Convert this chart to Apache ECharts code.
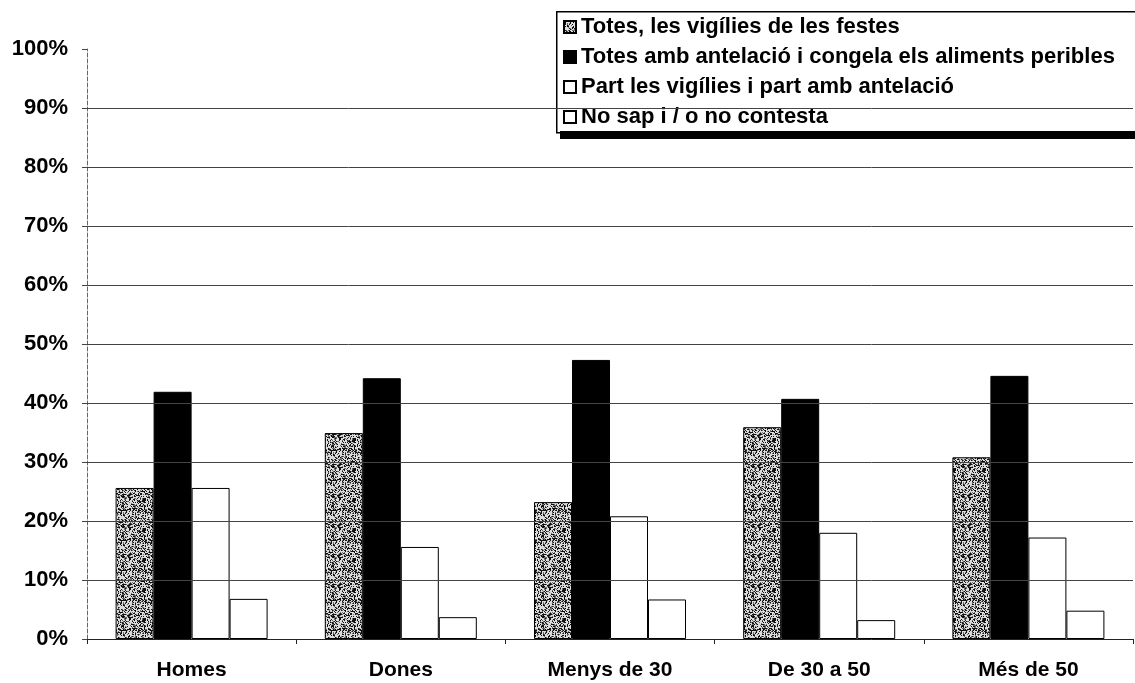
<!DOCTYPE html>
<html>
<head>
<meta charset="utf-8">
<script src="https://cdn.jsdelivr.net/npm/echarts@6/dist/echarts.min.js"></script>
<style>
html,body{margin:0;padding:0;background:#fff;}
#chart{width:1135px;height:683px;}
</style>
</head>
<body>
<div id="chart"></div>
<script>
const categories = ['Homes', 'Dones', 'Menys de 30', 'De 30 a 50', 'Més de 50'];
const seriesNames = [
  'Totes, les vigílies de les festes',
  'Totes amb antelació i congela els aliments peribles',
  'Part les vigílies i part amb antelació',
  'No sap i / o no contesta'
];
const totesVigilies = [25.6, 34.9, 23.2, 35.9, 30.8];
const totesAntelacio = [41.9, 44.2, 47.3, 40.7, 44.6];
const partVigilies = [25.6, 15.6, 20.8, 18.0, 17.2];
const noSap = [6.8, 3.7, 6.7, 3.2, 4.8];
const gridLevels = [10, 20, 30, 40, 50, 60, 70, 80, 90];

// speckled texture (deterministic)
function makePattern() {
  const c = document.createElement('canvas');
  c.width = 30; c.height = 30;
  const ctx = c.getContext('2d');
  ctx.fillStyle = '#dcdcdc';
  ctx.fillRect(0, 0, 30, 30);
  for (let y = 0; y < 30; y++) {
    for (let x = 0; x < 30; x++) {
      let h = (x * 374761393 + y * 668265263) >>> 0;
      h = ((h ^ (h >>> 13)) * 1274126177) >>> 0;
      const v = h % 100;
      if (v < 30) { ctx.fillStyle = '#111'; ctx.fillRect(x, y, 1, 1); }
      else if (v < 50) { ctx.fillStyle = '#6a6a6a'; ctx.fillRect(x, y, 1, 1); }
    }
  }
  return c;
}
const pattern = { image: makePattern(), repeat: 'repeat' };

const font = '"Liberation Sans", Arial, sans-serif';
const chart = echarts.init(document.getElementById('chart'), null, { renderer: 'canvas' });

const barBase = { type: 'bar', barWidth: 38, barGap: '0%', animation: false, z: 2 };

chart.setOption({
  backgroundColor: '#fff',
  animation: false,
  grid: { left: 87, right: 2, top: 49, bottom: 44, containLabel: false },
  graphic: [
    { type: 'rect', left: 556, top: 11, z: 3, shape: { width: 620, height: 121 },
      style: { fill: '#fff', stroke: '#000', lineWidth: 1.5 } },
    { type: 'rect', left: 560, top: 131, z: 3, shape: { width: 620, height: 8 },
      style: { fill: '#000' } }
  ],
  legend: {
    data: seriesNames,
    orient: 'vertical',
    left: 563,
    top: 16,
    padding: 0,
    itemGap: 8,
    itemWidth: 12,
    itemHeight: 12,
    icon: 'rect',
    z: 5,
    textStyle: { fontFamily: font, fontWeight: 'bold', fontSize: 22, color: '#000', lineHeight: 22 }
  },
  xAxis: {
    type: 'category',
    data: categories,
    axisLine: { show: true, lineStyle: { color: '#222', width: 1 } },
    axisTick: { show: true, length: 5, lineStyle: { color: '#222' } },
    axisLabel: { fontFamily: font, fontWeight: 'bold', fontSize: 21, color: '#000', margin: 21 },
    splitLine: { show: false }
  },
  yAxis: {
    type: 'value',
    min: 0, max: 100, interval: 10,
    axisLine: { show: true, lineStyle: { color: '#666', width: 1, type: 'dashed' } },
    axisTick: { show: true, length: 5, lineStyle: { color: '#444' } },
    axisLabel: { formatter: '{value}%', fontFamily: font, fontWeight: 'bold', fontSize: 22, color: '#000', margin: 19 },
    splitLine: { show: false }
  },
  series: [
    { type: 'line', data: [], z: 1, silent: true, animation: false,
      markLine: {
        silent: true, symbol: ['none', 'none'], label: { show: false }, animation: false,
        lineStyle: { color: '#444', width: 1, type: 'solid' },
        data: gridLevels.map(v => ({ yAxis: v }))
      } },
    Object.assign({}, barBase, { name: seriesNames[0], data: totesVigilies,
      itemStyle: { color: pattern, borderColor: '#000', borderWidth: 1 } }),
    Object.assign({}, barBase, { name: seriesNames[1], data: totesAntelacio,
      itemStyle: { color: '#000', borderColor: '#000', borderWidth: 1 } }),
    Object.assign({}, barBase, { name: seriesNames[2], data: partVigilies,
      itemStyle: { color: '#fff', borderColor: '#000', borderWidth: 1 } }),
    Object.assign({}, barBase, { name: seriesNames[3], data: noSap,
      itemStyle: { color: '#fff', borderColor: '#000', borderWidth: 1 } })
  ]
});
</script>
</body>
</html>
